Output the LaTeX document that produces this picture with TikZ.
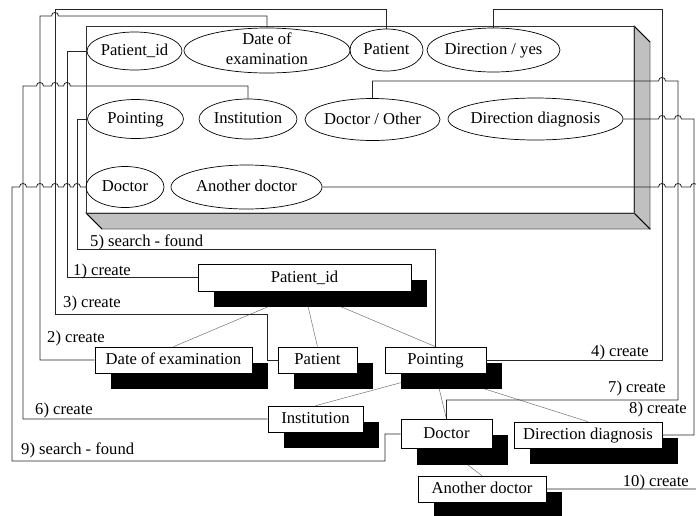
\documentclass[tikz,border=0pt]{standalone}
\usepackage{fontspec}
\setmainfont{Liberation Serif}
\usetikzlibrary{shapes.geometric,backgrounds}
\definecolor{bevel}{HTML}{C0C0C0}
\newcommand\ellt[1]{\makebox[0pt]{#1}}
\begin{document}
\begin{tikzpicture}[x=1pt,y=-1pt,
  font=\fontsize{16.6}{20}\selectfont,
  conn/.style={draw=black!85, line width=0.8pt},
  tree/.style={draw=black!55, line width=0.5pt},
  attr/.style={ellipse, draw=black, line width=0.7pt, inner sep=0pt, text height=11.5pt, text depth=2.5pt},
  entbox/.style={rectangle, draw=black, fill=white, line width=0.6pt, inner sep=0pt, text height=11.5pt, text depth=2.5pt},
  lbl/.style={inner sep=0pt, anchor=base west},
  lblr/.style={inner sep=0pt, anchor=base east},
  hopr/.style 2 args={insert path={-- ({#1-3.5},#2) .. controls ({#1-3.5},{#2-4.7}) and ({#1+3.5},{#2-4.7}) .. ({#1+3.5},#2)}},
  hopl/.style 2 args={insert path={-- ({#1+3.5},#2) .. controls ({#1+3.5},{#2-4.7}) and ({#1-3.5},{#2-4.7}) .. ({#1-3.5},#2)}},
]
\useasboundingbox (0,0) rectangle (696,515);

% 3D container
\draw[fill=bevel, draw=black!60, line width=0.8pt] (634,26) -- (650,42) -- (650,229) -- (634,213) -- cycle;
\draw[fill=bevel, draw=black!60, line width=0.8pt] (86,213) -- (634,213) -- (650,229) -- (102,229) -- cycle;
\draw[black, line width=0.8pt] (634,26) -- (650,42) (634,213) -- (650,229) (86,213) -- (102,229);
\draw[black!80, line width=0.8pt] (86,26) rectangle (634,213);

% attribute ellipses
\node[attr, minimum width=95pt, minimum height=38pt] (e_pid) at (134.5,51) {\ellt{Patient\_id}};
\node[attr, minimum width=166pt, minimum height=45pt] (e_date) at (267,50.5) {\ellt{\begin{tabular}{@{}c@{}}Date of\\examination\end{tabular}}};
\node[attr, minimum width=73pt, minimum height=42pt] (e_pat) at (386.5,50) {\ellt{Patient}};
\node[attr, minimum width=133pt, minimum height=44pt] (e_diry) at (493.5,50) {\ellt{Direction / yes}};
\node[attr, minimum width=96pt, minimum height=39pt] (e_point) at (135.5,119) {\ellt{Pointing}};
\node[attr, minimum width=98pt, minimum height=40pt] (e_inst) at (248,119) {\ellt{Institution}};
\node[attr, minimum width=135pt, minimum height=42pt] (e_doco) at (372.5,119.5) {\ellt{Doctor / Other}};
\node[attr, minimum width=175pt, minimum height=42pt] (e_dird) at (535.5,119) {\ellt{Direction diagnosis}};
\node[attr, minimum width=78pt, minimum height=41pt] (e_doc) at (125,187) {\ellt{Doctor}};
\node[attr, minimum width=151pt, minimum height=44pt] (e_anot) at (246.5,187) {\ellt{Another doctor}};

% entity boxes
\node[entbox, minimum width=213pt, minimum height=27pt] (b_pid) at (304.5,277.5) {Patient\_id};
\node[entbox, minimum width=157pt, minimum height=26pt] (b_date) at (173.5,360) {Date of examination};
\node[entbox, minimum width=79pt, minimum height=26pt] (b_pat) at (317.5,360) {Patient};
\node[entbox, minimum width=101pt, minimum height=26pt] (b_point) at (435.5,360) {Pointing};
\node[entbox, minimum width=95pt, minimum height=26pt] (b_inst) at (315.5,419) {Institution};
\node[entbox, minimum width=91pt, minimum height=29pt] (b_doc) at (446.5,434) {Doctor};
\node[entbox, minimum width=148pt, minimum height=26pt] (b_dird) at (588,435) {Direction diagnosis};
\node[entbox, minimum width=128pt, minimum height=26pt] (b_anot) at (482,489) {Another doctor};

\begin{pgfonlayer}{background}
\draw[tree] (b_pid.south) -- (b_date.north);
\draw[tree] (b_pid.south) -- (b_pat.north);
\draw[tree] (b_pid.south) -- (b_point.north);
\draw[tree] (b_point.south) -- (b_inst.north);
\draw[tree] (b_point.south) -- (b_doc.north);
\draw[tree] (b_point.south) -- (b_dird.north);
\draw[tree] (b_doc.south) -- (b_anot.north);
\foreach \n in {b_pid,b_date,b_pat,b_point,b_inst,b_doc,b_dird,b_anot}
  \fill[black] ([shift={(16,16)}]\n.north west) rectangle ([shift={(16,16)}]\n.south east);
\end{pgfonlayer}

% connectors
\draw[conn] (e_pid.west) -| (67,277.5) -- (b_pid.west);
\draw[conn] (e_date.north) -- (e_date.north |- 0,16) [hopl={55}{16}] -- (40,16) |- (b_date.west);
\draw[conn] (e_pat.north) |- (55,9) -- (55,314) -- (267,314) |- (b_pat.west);
\draw[conn] (e_diry.north) |- (662,9) |- (b_point.east);
\draw[conn] (e_point.west) -| (77,249) -| (b_point.north);
\draw[conn] (e_inst.north) -- (e_inst.north |- 0,86) [hopl={67}{86}] [hopl={55}{86}] [hopl={40}{86}] -- (23,86) |- (b_inst.west);
\draw[conn] (e_doco.north) -- (e_doco.north |- 0,81) [hopr={662}{81}] -- (678,81) -- (678,400) -| (b_doc.north);
\draw[conn] (e_dird.east) [hopr={662}{119}] [hopr={678}{119}] -- (694,119) |- (b_dird.east);
\draw[conn] (e_doc.west) [hopl={77}{187}] [hopl={67}{187}] [hopl={55}{187}] [hopl={40}{187}] [hopl={23}{187}] -- (12,187) |- (385,461) |- (b_doc.west);
\draw[conn] (e_anot.east) [hopr={662}{187}] [hopr={678}{187}] [hopr={694}{187}] -- (702,187) |- (b_anot.east);

% labels
\node[lbl] (l5) at (90,246) {5) search - found};
\node[lbl] (l1) at (73,275) {1) create};
\node[lbl] (l3) at (63,307) {3) create};
\node[lbl] (l2) at (47,342) {2) create};
\node[lblr] (l4) at (649,356) {4) create};
\node[lbl] (l6) at (35,414) {6) create};
\node[lbl] (l9) at (21,454) {9) search - found};
\node[lblr] (l7) at (666,392) {7) create};
\node[lblr] (l8) at (687,413) {8) create};
\node[lblr] (l10) at (689,486) {10) create};
\end{tikzpicture}
\end{document}
